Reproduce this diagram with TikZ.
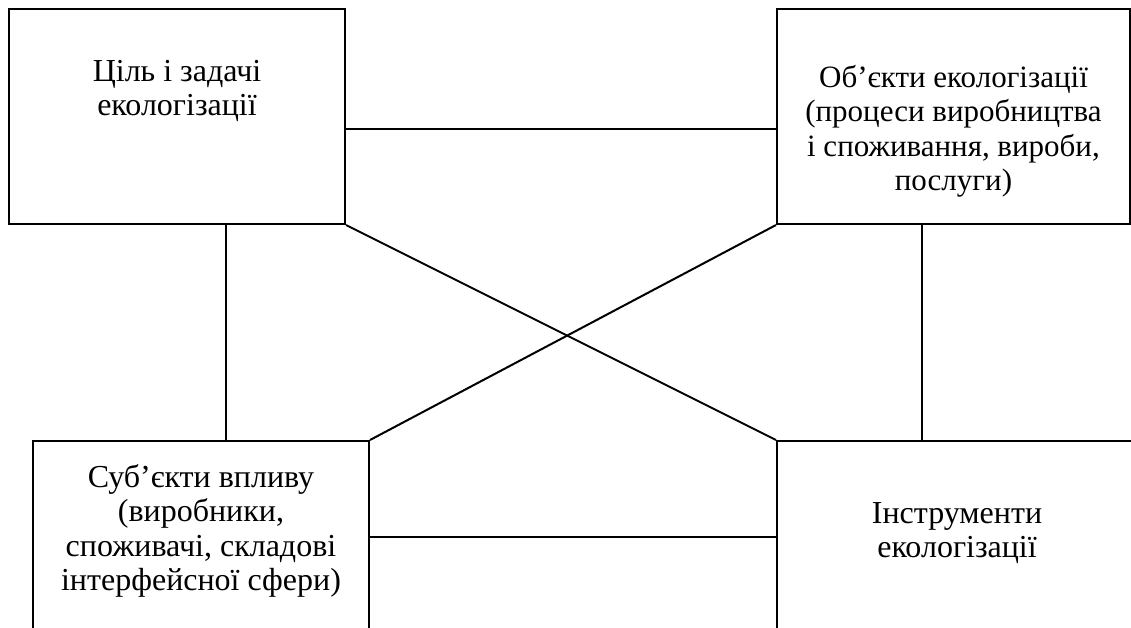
\documentclass[tikz,border=0pt]{standalone}
\usepackage{fontspec}
\setmainfont{Liberation Serif}
\tikzset{
	block/.style = {draw=black, line width=2pt, rectangle, inner sep=0pt},
	blocktext/.style = {align=center, inner sep=0pt, font=\fontsize{32}{34.5}\selectfont},
	link/.style = {draw=black, line width=2pt}
}

\begin{document}
\begin{tikzpicture}[x=1pt, y=-1pt]
		\clip (0,0) rectangle (1131,628);
		\node [block, minimum width=336pt, minimum height=215pt,
			label={[blocktext, below=52pt]north:{Ціль і задачі\\екологізації}}] (aim) at (177,116.5) {};
		\node [block, minimum width=353pt, minimum height=215pt,
			label={[blocktext, font=\fontsize{31}{34.5}\selectfont, below=57pt]north:{Об’єкти екологізації\\(процеси виробництва\\і споживання, вироби,\\послуги)}}] (objects) at (953.5,116.5) {};
		\node [block, minimum width=336pt, minimum height=215pt,
			label={[blocktext, below=24pt]north:{Суб’єкти впливу\\(виробники,\\споживачі, складові\\інтерфейсної сфери)}}] (subjects) at (201,548.5) {};
		\node [block, minimum width=360pt, minimum height=215pt,
			label={[blocktext, below=62pt]north:{Інструменти\\екологізації}}] (tools) at (957,548.5) {};
		% links between the blocks
		\draw [link] ([yshift=-12.5pt]aim.east) -- ([yshift=-12.5pt]aim.east -| objects.west);
		\draw [link] ([xshift=49pt]aim.south) -- ([xshift=49pt]aim.south |- subjects.north);
		\draw [link] (aim.south east) -- (tools.north west);
		\draw [link] (objects.south west) -- (subjects.north east);
		\draw [link] ([xshift=-32pt]objects.south) -- ([xshift=-32pt]objects.south |- tools.north);
		\draw [link] ([yshift=11.5pt]subjects.east) -- ([yshift=11.5pt]subjects.east -| tools.west);
\end{tikzpicture}
\end{document}
